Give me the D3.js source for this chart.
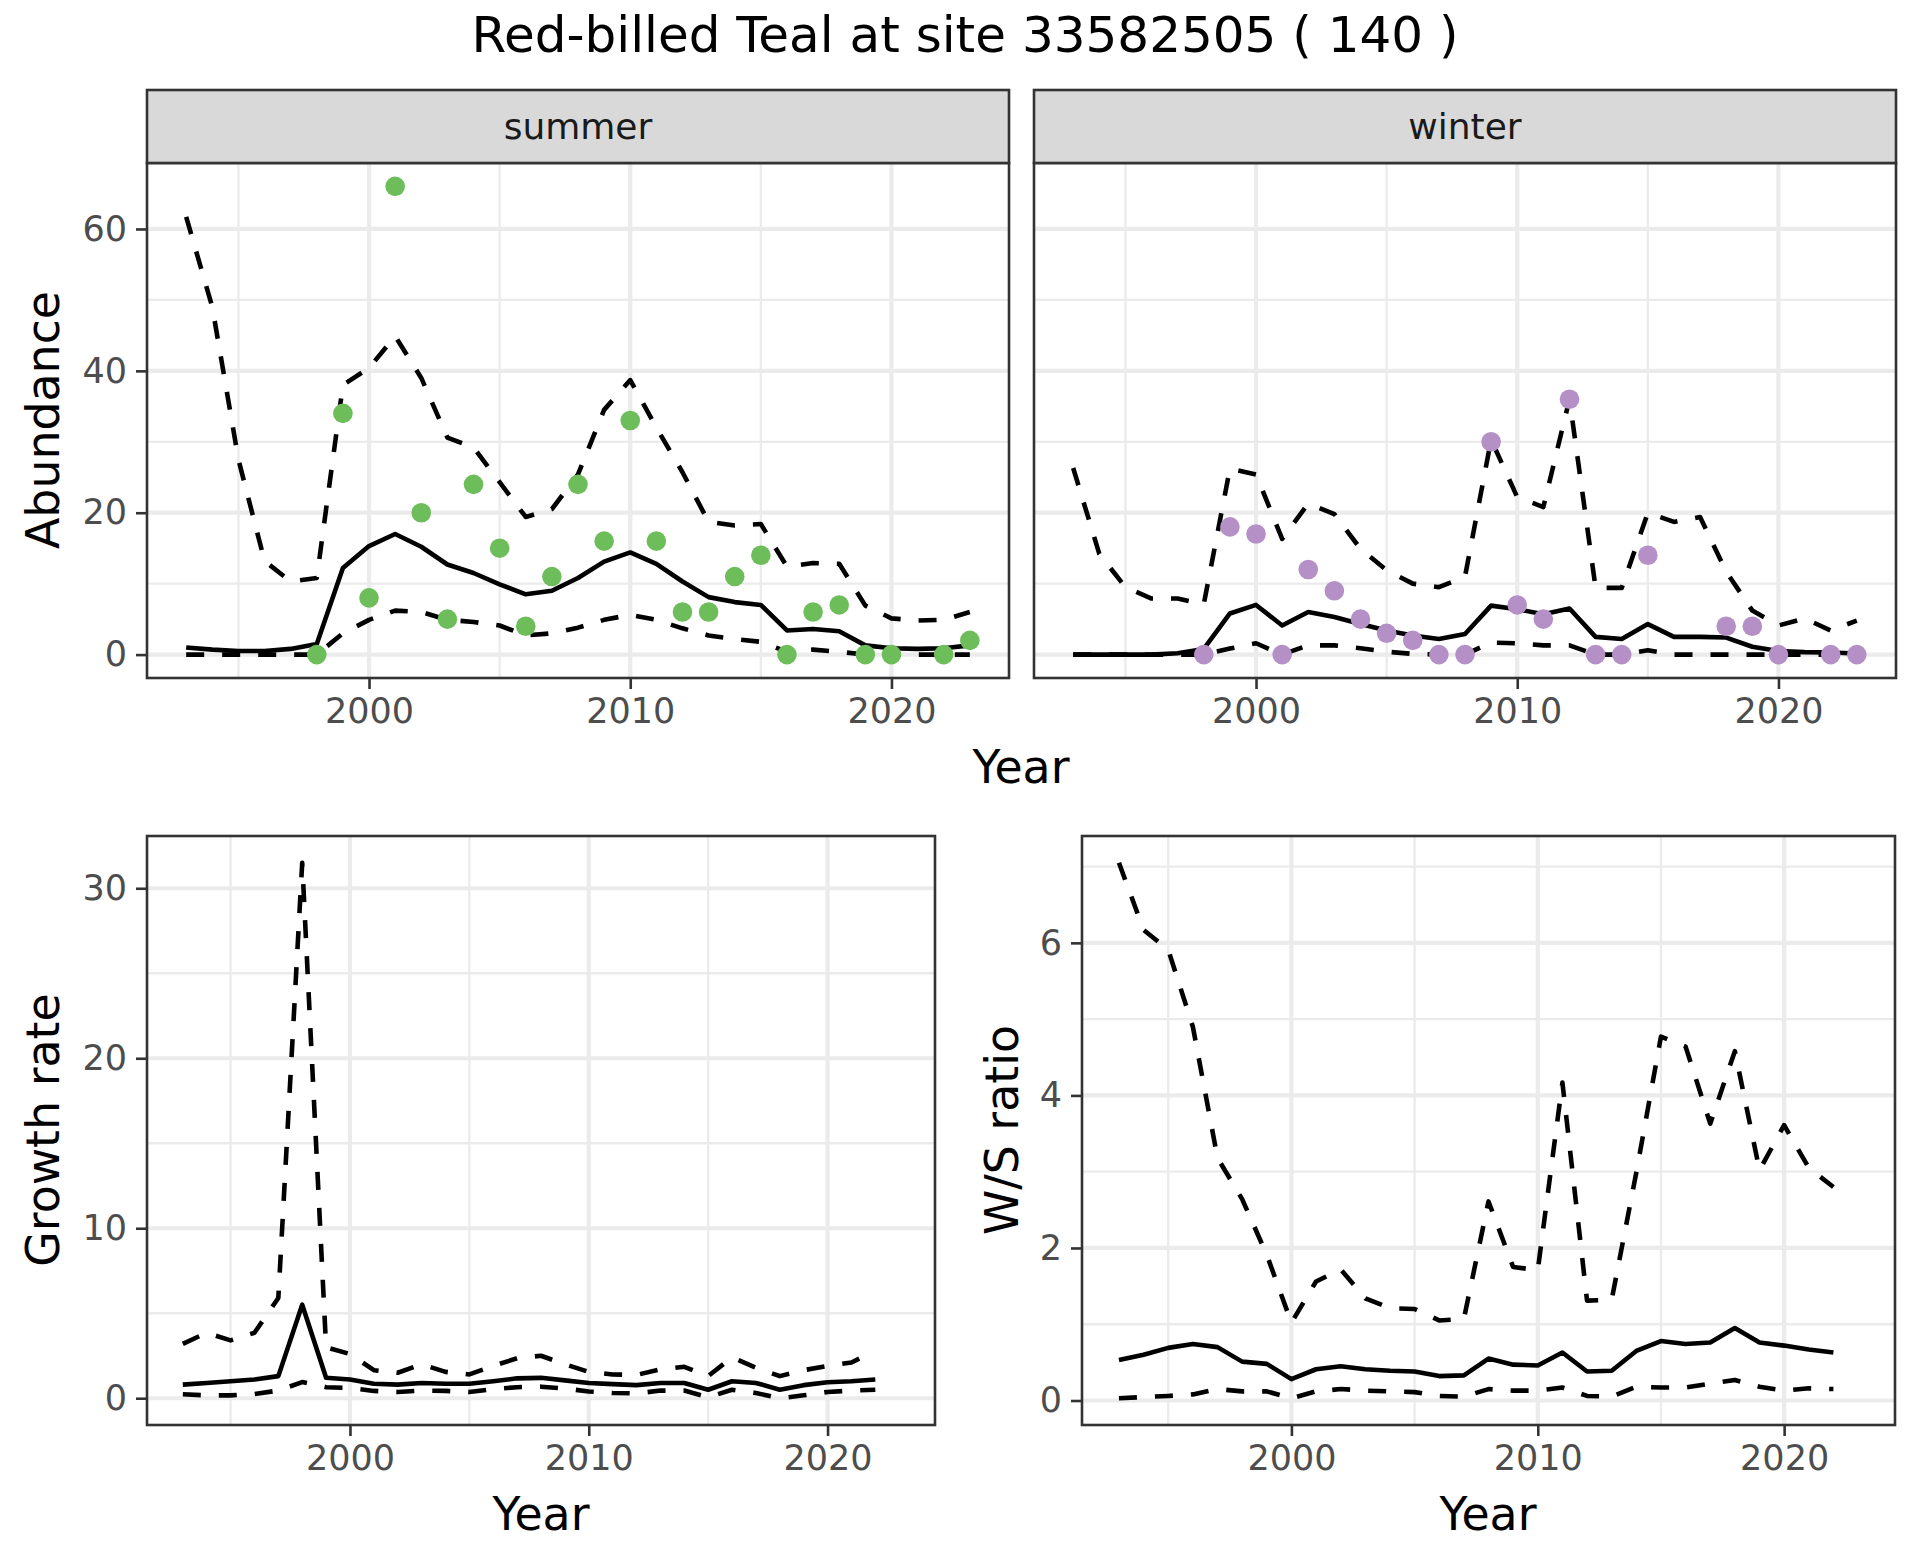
<!DOCTYPE html>
<html>
<head>
<meta charset="utf-8">
<script src="https://cdn.jsdelivr.net/npm/d3@7"></script>
<style>
  body { margin: 0; background: #fff; }
  text { font-family: "DejaVu Sans", sans-serif; }
</style>
</head>
<body>
<svg id="chart" width="1920" height="1560"></svg>
<script>
// ---- data ----
var years = [1993,1994,1995,1996,1997,1998,1999,2000,2001,2002,2003,2004,2005,2006,2007,
             2008,2009,2010,2011,2012,2013,2014,2015,2016,2017,2018,2019,2020,2021,2022,2023];
var rateYears = [1993,1994,1995,1996,1997,1998,1999,2000,2001,2002,2003,2004,2005,2006,2007,
                 2008,2009,2010,2011,2012,2013,2014,2015,2016,2017,2018,2019,2020,2021,2022];

var summerCount = [null,null,null,null,null,0,34,8,66,20,5,24,15,4,11,24,16,33,16,6,6,11,14,0,6,7,0,0,null,0,2];
var summerMean  = [1.0,0.7,0.5,0.5,0.8,1.5,12.2,15.3,17.0,15.2,12.7,11.5,9.9,8.5,9.0,10.8,13.1,14.4,12.8,10.3,8.1,7.4,7.0,3.4,3.6,3.3,1.3,0.9,0.8,0.9,1.3];
var summerHigh  = [61.7,49.0,27.5,13.2,10.3,10.8,38.0,40.4,44.9,39.0,30.6,29.2,24.3,19.4,20.5,25.4,34.5,38.7,32.0,25.7,18.7,18.2,18.4,12.4,12.9,12.8,6.9,5.1,4.8,4.9,6.0];
var summerLow   = [0,0,0,0,0,0,3.0,4.9,6.2,6.0,4.9,4.6,4.1,2.7,3.0,3.8,4.9,5.6,4.9,3.7,2.7,2.2,1.8,0.4,0.7,0.4,0,0,0,0,0];

var winterCount = [null,null,null,null,null,0,18,17,0,12,9,5,3,2,0,0,30,7,5,36,0,0,14,null,null,4,4,0,null,0,0];
var winterMean  = [0,0,0,0,0.2,0.8,5.8,7.0,4.1,6.0,5.3,4.3,3.4,2.7,2.2,2.9,6.9,6.4,5.7,6.5,2.5,2.2,4.3,2.5,2.5,2.4,1.1,0.5,0.35,0.3,0.15];
var winterHigh  = [26.3,14.2,9.5,7.9,7.9,7.1,26.2,25.4,16.3,21.3,19.8,14.9,11.9,10.0,9.5,11.0,30.3,22.2,20.8,36.0,9.4,9.4,20.0,18.7,19.4,11.7,6.2,4.1,5.1,3.4,4.8];
var winterLow   = [0,0,0,0,0,0,0.85,1.6,0,1.3,1.3,0.9,0.4,0.1,0,0,1.7,1.6,1.3,1.3,0,0,0.6,0,0,0,0,0,0,0,0];

var growthMean = [0.8,0.9,1.0,1.1,1.3,5.5,1.2,1.1,0.85,0.8,0.9,0.85,0.85,1.0,1.17,1.2,1.05,0.9,0.83,0.77,0.9,0.9,0.5,1.0,0.9,0.5,0.77,0.94,1.0,1.1];
var growthHigh = [3.2,3.85,3.4,3.85,5.9,31.5,3.0,2.6,1.65,1.5,2.0,1.55,1.4,1.9,2.35,2.5,2.0,1.55,1.4,1.37,1.7,1.85,1.3,2.4,1.8,1.3,1.65,1.9,2.1,2.8];
var growthLow  = [0.23,0.17,0.17,0.25,0.45,0.95,0.65,0.6,0.43,0.37,0.45,0.43,0.37,0.54,0.65,0.68,0.57,0.4,0.31,0.28,0.45,0.45,0.06,0.5,0.31,0.0,0.17,0.37,0.45,0.5];

var ratioMean = [0.53,0.6,0.69,0.74,0.7,0.51,0.48,0.28,0.41,0.45,0.41,0.39,0.38,0.32,0.33,0.55,0.47,0.46,0.63,0.38,0.39,0.65,0.78,0.74,0.76,0.95,0.76,0.72,0.67,0.63];
var ratioHigh = [7.05,6.17,5.91,4.9,3.18,2.64,1.91,1.02,1.56,1.72,1.34,1.21,1.2,1.05,1.07,2.61,1.75,1.71,4.17,1.31,1.32,2.99,4.77,4.64,3.63,4.58,3.02,3.61,3.05,2.8];
var ratioLow  = [0.03,0.045,0.06,0.08,0.15,0.12,0.12,0.03,0.12,0.15,0.13,0.12,0.11,0.06,0.05,0.15,0.13,0.13,0.17,0.06,0.05,0.18,0.17,0.17,0.22,0.27,0.18,0.13,0.16,0.15];

var xMajor = [2000, 2010, 2020];
var xMinor = [1995, 2005, 2015];
var seasons = ["summer", "winter"];
var seasonColors = ["#6dbd5b", "#b490c6"];

// ---- drawing ----
var svg = d3.select("#chart");
var grid = "#ebebeb", dark = "#333333";

// ggplot-like padded domain
function padded(arrays) {
  var all = [].concat.apply([], arrays).filter(function (v) { return v != null; });
  var e = d3.extent(all), pad = (e[1] - e[0]) * 0.05;
  return [e[0] - pad, e[1] + pad];
}

function panel(o) {
  var x = d3.scaleLinear().domain([1991.5, 2024.5]).range([o.x0, o.x1]);
  var y = d3.scaleLinear().domain(o.yDomain).range([o.y1, o.y0]);
  var g = svg.append("g");

  g.append("rect").attr("x", o.x0).attr("y", o.y0)
    .attr("width", o.x1 - o.x0).attr("height", o.y1 - o.y0).attr("fill", "#fff");

  var yMajor = y.ticks(o.nTicks);
  var step = yMajor[1] - yMajor[0];
  var yMinor = d3.range(yMajor[0] - step / 2, o.yDomain[1], step)
    .filter(function (v) { return v > o.yDomain[0] && v < o.yDomain[1]; });

  g.selectAll(".ymin").data(yMinor).enter().append("line")
    .attr("x1", o.x0).attr("x2", o.x1).attr("y1", y).attr("y2", y)
    .attr("stroke", grid).attr("stroke-width", 2.3);
  g.selectAll(".xmin").data(xMinor).enter().append("line")
    .attr("y1", o.y0).attr("y2", o.y1).attr("x1", x).attr("x2", x)
    .attr("stroke", grid).attr("stroke-width", 2.3);
  g.selectAll(".ymaj").data(yMajor).enter().append("line")
    .attr("x1", o.x0).attr("x2", o.x1).attr("y1", y).attr("y2", y)
    .attr("stroke", grid).attr("stroke-width", 4.2);
  g.selectAll(".xmaj").data(xMajor).enter().append("line")
    .attr("y1", o.y0).attr("y2", o.y1).attr("x1", x).attr("x2", x)
    .attr("stroke", grid).attr("stroke-width", 4.2);

  var line = d3.line()
    .defined(function (d) { return d[1] != null; })
    .x(function (d) { return x(d[0]); })
    .y(function (d) { return y(d[1]); });

  o.lines.forEach(function (s) {
    g.append("path")
      .datum(o.xs.map(function (yr, i) { return [yr, s.values[i]]; }))
      .attr("d", line)
      .attr("fill", "none").attr("stroke", "#000")
      .attr("stroke-width", 4.6)
      .attr("stroke-linejoin", "round")
      .attr("stroke-dasharray", s.dashed ? "18,18" : null);
  });

  if (o.points) {
    g.selectAll(".pt")
      .data(o.xs.map(function (yr, i) { return [yr, o.points[i]]; })
        .filter(function (d) { return d[1] != null; }))
      .enter().append("circle")
      .attr("cx", function (d) { return x(d[0]); })
      .attr("cy", function (d) { return y(d[1]); })
      .attr("r", 9.8).attr("fill", o.color);
  }

  g.append("rect").attr("x", o.x0).attr("y", o.y0)
    .attr("width", o.x1 - o.x0).attr("height", o.y1 - o.y0)
    .attr("fill", "none").attr("stroke", dark).attr("stroke-width", 2.6);

  // axes
  var ax = g.append("g").attr("transform", "translate(0," + o.y1 + ")")
    .call(d3.axisBottom(x).tickValues(xMajor).tickFormat(d3.format("d"))
      .tickSize(11).tickPadding(9));
  styleAxis(ax);
  if (o.yAxis) {
    var ay = g.append("g").attr("transform", "translate(" + o.x0 + ",0)")
      .call(d3.axisLeft(y).tickValues(yMajor).tickSize(11).tickPadding(9));
    styleAxis(ay);
  }

  if (o.strip) {
    g.append("rect").attr("x", o.x0).attr("y", o.stripTop)
      .attr("width", o.x1 - o.x0).attr("height", o.y0 - o.stripTop)
      .attr("fill", "#d9d9d9").attr("stroke", dark).attr("stroke-width", 2.6);
    g.append("text").attr("x", (o.x0 + o.x1) / 2).attr("y", o.stripTop + 49)
      .attr("text-anchor", "middle").attr("font-size", 36).attr("fill", "#1a1a1a")
      .text(o.strip);
  }
  return g;
}

function styleAxis(a) {
  a.select(".domain").remove();
  a.selectAll(".tick line").attr("stroke", dark).attr("stroke-width", 2.6);
  a.selectAll(".tick text").attr("font-size", 35).attr("fill", "#4d4d4d")
    .style("font-family", "DejaVu Sans, sans-serif");
}

function yTitle(txt, xBase, yMid) {
  svg.append("text").attr("transform", "translate(" + xBase + "," + yMid + ") rotate(-90)")
    .attr("text-anchor", "middle").attr("font-size", 45.8).attr("fill", "#000").text(txt);
}
function xTitle(txt, xMid, yBase) {
  svg.append("text").attr("x", xMid).attr("y", yBase)
    .attr("text-anchor", "middle").attr("font-size", 45.8).attr("fill", "#000").text(txt);
}

// title
svg.append("text").attr("x", 965).attr("y", 52).attr("text-anchor", "middle")
  .attr("font-size", 50).attr("fill", "#000")
  .text("Red-billed Teal at site 33582505 ( 140 )");

// top: abundance facets
var abDomain = padded([summerCount, summerMean, summerHigh, summerLow,
                       winterCount, winterMean, winterHigh, winterLow]);
var facet = [
  { count: summerCount, mean: summerMean, high: summerHigh, low: summerLow, x0: 147, x1: 1009 },
  { count: winterCount, mean: winterMean, high: winterHigh, low: winterLow, x0: 1034, x1: 1896 }
];
facet.forEach(function (f, i) {
  panel({
    x0: f.x0, x1: f.x1, y0: 163, y1: 678, stripTop: 90, strip: seasons[i],
    yDomain: abDomain, nTicks: 4, xs: years, yAxis: i === 0,
    lines: [{ values: f.high, dashed: true }, { values: f.low, dashed: true },
            { values: f.mean, dashed: false }],
    points: f.count, color: seasonColors[i]
  });
});
yTitle("Abundance", 59, 420);
xTitle("Year", 1021, 783);

// bottom left: growth rate
panel({
  x0: 147, x1: 935, y0: 836, y1: 1425,
  yDomain: padded([growthMean, growthHigh, growthLow]), nTicks: 4, xs: rateYears, yAxis: true,
  lines: [{ values: growthHigh, dashed: true }, { values: growthLow, dashed: true },
          { values: growthMean, dashed: false }]
});
yTitle("Growth rate", 59, 1130);
xTitle("Year", 541, 1530);

// bottom right: W/S ratio
panel({
  x0: 1082, x1: 1895, y0: 836, y1: 1425,
  yDomain: padded([ratioMean, ratioHigh, ratioLow]), nTicks: 4, xs: rateYears, yAxis: true,
  lines: [{ values: ratioHigh, dashed: true }, { values: ratioLow, dashed: true },
          { values: ratioMean, dashed: false }]
});
yTitle("W/S ratio", 1018, 1130);
xTitle("Year", 1488, 1530);
</script>
</body>
</html>
